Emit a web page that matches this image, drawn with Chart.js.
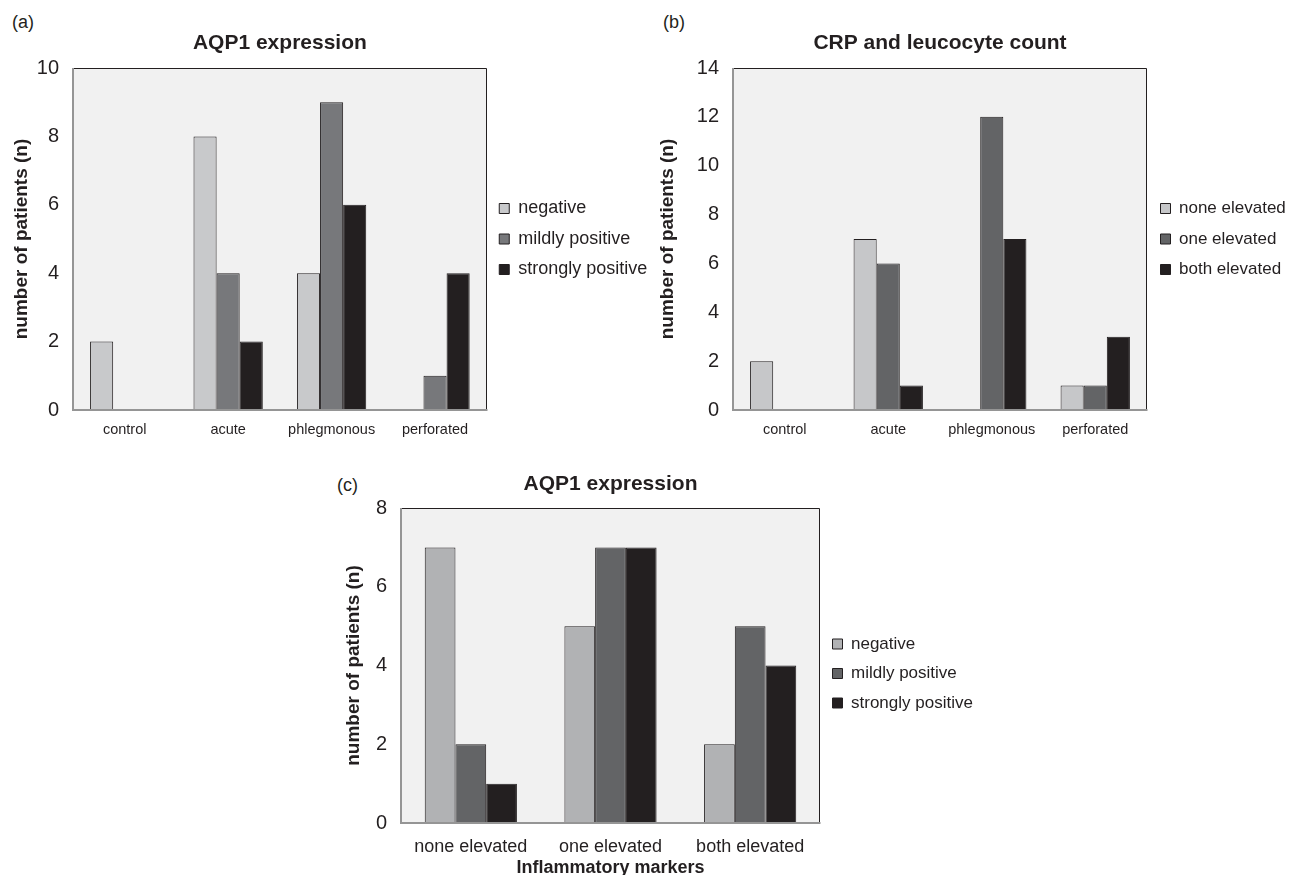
<!DOCTYPE html>
<html>
<head>
<meta charset="utf-8">
<script src="https://cdn.jsdelivr.net/npm/chart.js@4.4.0/dist/chart.umd.min.js"></script>
<style>
  body { margin: 0; width: 1291px; height: 875px; overflow: hidden; background: #fff; position: relative;
         font-family: "Liberation Sans", Arial, sans-serif; color: #231f20; }
  canvas { position: absolute; }
  .tag { position: absolute; font-size: 18px; line-height: 1; }
</style>
</head>
<body>
<div class="tag" style="left:12px;top:13px">(a)</div>
<div class="tag" style="left:663px;top:13px">(b)</div>
<div class="tag" style="left:337px;top:476px">(c)</div>
<canvas id="chartA" width="660" height="440" style="left:0;top:0"></canvas>
<canvas id="chartB" width="651" height="440" style="left:640px;top:0"></canvas>
<canvas id="chartC" width="660" height="442" style="left:330px;top:437px"></canvas>
<script>
// data
const stages = ['control', 'acute', 'phlegmonous', 'perforated'];
const markers = ['none elevated', 'one elevated', 'both elevated'];

const aqpNegative = [2, 8, 4, 0];
const aqpMild = [0, 4, 9, 1];
const aqpStrong = [0, 2, 6, 4];

const crpNone = [2, 7, 0, 1];
const crpOne = [0, 6, 12, 1];
const crpBoth = [0, 1, 7, 3];

const mrkNegative = [7, 5, 2];
const mrkMild = [2, 7, 5];
const mrkStrong = [1, 7, 4];

const ink = '#231f20';
Chart.defaults.font.family = '"Liberation Sans", Arial, sans-serif';
Chart.defaults.color = ink;

// grey plot box: light fill, dark top/right, grey left/bottom
const plotFrame = {
  id: 'plotFrame',
  beforeDatasetsDraw(chart) {
    const a = chart.chartArea, ctx = chart.ctx;
    ctx.save();
    ctx.fillStyle = '#f1f1f1';
    ctx.fillRect(a.left, a.top, a.right - a.left, a.bottom - a.top);
    ctx.restore();
  },
  afterDatasetsDraw(chart) {
    const a = chart.chartArea, ctx = chart.ctx;
    const l = Math.round(a.left), r = Math.round(a.right) - 0.5;
    const t = Math.round(a.top) + 0.5, b = Math.round(a.bottom);
    ctx.save();
    ctx.strokeStyle = ink;
    ctx.lineWidth = 1;
    ctx.beginPath();
    ctx.moveTo(l, t);
    ctx.lineTo(r, t);
    ctx.lineTo(r, b);
    ctx.stroke();
    ctx.strokeStyle = '#959595';
    ctx.lineWidth = 2;
    ctx.beginPath();
    ctx.moveTo(l, t - 0.5);
    ctx.lineTo(l, b);
    ctx.lineTo(r + 1, b);
    ctx.stroke();
    ctx.restore();
  }
};

function bars(label, data, color) {
  return { label: label, data: data, backgroundColor: color, borderColor: ink, borderWidth: 1 };
}

function makeChart(id, o) {
  const chart = new Chart(document.getElementById(id), {
    type: 'bar',
    data: { labels: o.labels, datasets: o.datasets },
    plugins: [plotFrame],
    options: {
      responsive: false,
      animation: false,
      categoryPercentage: o.groupWidth,
      barPercentage: 1,
      layout: { padding: { left: 0, top: 0, bottom: o.padBottom, right: 0 } },
      plugins: {
        tooltip: { enabled: false },
        title: {
          display: true, text: o.title, fullSize: false, color: ink,
          font: { size: 21, weight: 'bold' },
          padding: { top: o.titleTop, bottom: o.titleBottom }
        },
        legend: {
          position: 'right', fullSize: false,
          // empty legend title only nudges the entries down
          title: { display: o.legendShift > 0, text: ' ', font: { size: 10 }, padding: { top: 0, bottom: o.legendShift * 2 - 12 } },
          labels: {
            boxWidth: 10, boxHeight: 10, padding: o.legendGap,
            color: ink, font: { size: o.legendFont }
          }
        }
      },
      scales: {
        x: {
          grid: { display: false, drawTicks: false },
          border: { display: false },
          ticks: { color: ink, font: { size: o.xFont }, padding: o.xPad, maxRotation: 0, autoSkip: false },
          title: {
            display: !!o.xTitle, text: o.xTitle || '', color: ink,
            font: { size: 18, weight: 'bold' }, padding: 0
          },
          afterFit: s => { s.height = o.xHeight; }
        },
        y: {
          min: 0, max: o.yMax,
          grid: { display: false, drawTicks: false },
          border: { display: false },
          ticks: { stepSize: 2, color: ink, font: { size: 20 }, padding: 14 },
          title: {
            display: true, text: 'number of patients (n)', color: ink,
            font: { size: 19, weight: 'bold' }, padding: { top: o.yTitlePad, bottom: 0 }
          },
          afterFit: s => { s.width = o.yWidth; }
        }
      }
    }
  });
  // push the legend so the plot box ends where the reference box ends
  chart.options.layout.padding.right = chart.chartArea.right - o.plotRight;
  chart.update();
  return chart;
}

makeChart('chartA', {
  labels: stages,
  datasets: [
    bars('negative', aqpNegative, '#c8c9cb'),
    bars('mildly positive', aqpMild, '#77787b'),
    bars('strongly positive', aqpStrong, '#231f20')
  ],
  title: 'AQP1 expression',
  titleTop: 31, titleBottom: 11.8,
  groupWidth: 0.67,
  yMax: 10, yWidth: 73, yTitlePad: 10,
  xFont: 14.5, xPad: 11, xHeight: 30, padBottom: 0,
  legendFont: 18, legendGap: 12.5, legendShift: 0,
  plotRight: 484
});

makeChart('chartB', {
  labels: stages,
  datasets: [
    bars('none elevated', crpNone, '#c6c7c9'),
    bars('one elevated', crpOne, '#636466'),
    bars('both elevated', crpBoth, '#231f20')
  ],
  title: 'CRP and leucocyte count',
  titleTop: 31, titleBottom: 11.8,
  groupWidth: 0.67,
  yMax: 14, yWidth: 93, yTitlePad: 16,
  xFont: 14.5, xPad: 11, xHeight: 30, padBottom: 0,
  legendFont: 17, legendGap: 13.5, legendShift: 0,
  plotRight: 507
});

makeChart('chartC', {
  labels: markers,
  datasets: [
    bars('negative', mrkNegative, '#b1b2b4'),
    bars('mildly positive', mrkMild, '#636466'),
    bars('strongly positive', mrkStrong, '#231f20')
  ],
  title: 'AQP1 expression',
  titleTop: 35, titleBottom: 10.8,
  groupWidth: 0.66,
  yMax: 8, yWidth: 71, yTitlePad: 12,
  xFont: 18, xPad: 13, xTitle: 'Inflammatory markers', xHeight: 56, padBottom: 0,
  legendFont: 17, legendGap: 12.5, legendShift: 8,
  plotRight: 490
});
</script>
</body>
</html>
